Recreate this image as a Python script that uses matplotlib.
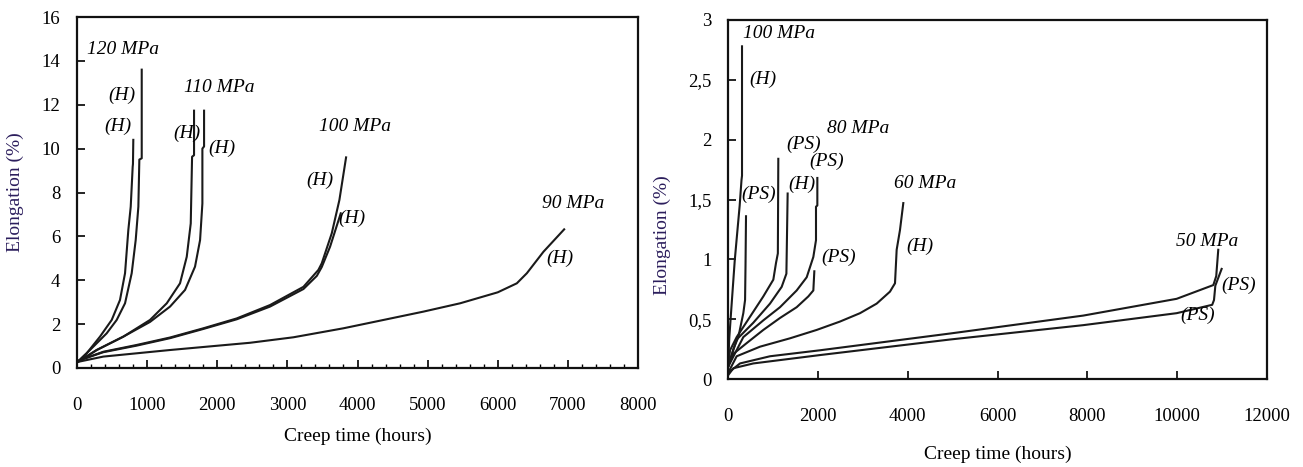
import matplotlib
matplotlib.use("Agg")
import matplotlib.pyplot as plt
from matplotlib.ticker import MultipleLocator, FixedLocator

# ---------------- data: left panel (hours, elongation %) ----------------
c120a_h = [0, 138, 328, 495, 613, 685, 732, 766, 794, 798, 803]
c120a_e = [0.25, 0.67, 1.43, 2.19, 3.1, 4.32, 6.29, 7.35, 9.17, 9.3, 10.4]
c120b_h = [0, 185, 423, 566, 685, 780, 837, 875, 889, 923, 923]
c120b_e = [0.25, 0.82, 1.58, 2.19, 2.95, 4.32, 5.83, 7.35, 9.5, 9.56, 13.6]
c110a_h = [0, 281, 661, 1041, 1280, 1469, 1565, 1622, 1641, 1669, 1669]
c110a_e = [0.25, 0.82, 1.43, 2.19, 2.95, 3.86, 5.07, 6.59, 9.63, 9.7, 11.73]
c110b_h = [0, 281, 661, 1041, 1327, 1541, 1683, 1755, 1788, 1788, 1812, 1812]
c110b_e = [0.25, 0.82, 1.43, 2.1, 2.8, 3.56, 4.62, 5.83, 7.5, 10.0, 10.1, 11.73]
c100a_h = [0, 43, 375, 851, 1327, 1802, 2278, 2753, 3229, 3442, 3490, 3633, 3742, 3837]
c100a_e = [0.3, 0.36, 0.74, 1.05, 1.39, 1.81, 2.26, 2.87, 3.7, 4.47, 4.77, 6.14, 7.66, 9.6]
c100b_h = [0, 43, 375, 851, 1327, 1802, 2278, 2753, 3229, 3420, 3490, 3609, 3761]
c100b_e = [0.3, 0.36, 0.72, 1.02, 1.36, 1.78, 2.22, 2.8, 3.6, 4.2, 4.6, 5.53, 7.05]
c90_h = [0, 375, 1327, 2468, 3086, 3799, 4370, 4940, 5464, 6000, 6272, 6415, 6652, 6947]
c90_e = [0.27, 0.52, 0.82, 1.15, 1.4, 1.81, 2.19, 2.57, 2.95, 3.45, 3.86, 4.32, 5.3, 6.32]

# ---------------- data: right panel ----------------
r100H_h = [0, 30, 82, 150, 200, 260, 300, 312, 312]
r100H_e = [0.1, 0.35, 0.63, 0.99, 1.2, 1.45, 1.66, 1.70, 2.78]
r100PS_h = [0, 119, 230, 341, 380, 390, 401]
r100PS_e = [0.1, 0.25, 0.35, 0.55, 0.66, 0.95, 1.36]
r80PSa_h = [0, 45, 193, 490, 786, 1009, 1069, 1110, 1120]
r80PSa_e = [0.1, 0.24, 0.35, 0.52, 0.69, 0.83, 0.97, 1.05, 1.84]
r80H_h = [0, 193, 563, 935, 1195, 1300, 1328]
r80H_e = [0.1, 0.33, 0.47, 0.63, 0.77, 0.88, 1.55]
r80PSb_h = [0, 341, 786, 1158, 1529, 1752, 1900, 1959, 1959, 1989, 1989]
r80PSb_e = [0.1, 0.35, 0.49, 0.60, 0.74, 0.85, 1.02, 1.16, 1.44, 1.45, 1.68]
r70PS_h = [0, 119, 416, 786, 1158, 1529, 1788, 1900, 1922]
r70PS_e = [0.1, 0.21, 0.30, 0.41, 0.51, 0.60, 0.69, 0.74, 0.90]
r60H_h = [0, 193, 712, 1380, 1974, 2493, 2939, 3310, 3606, 3718, 3755, 3829, 3903]
r60H_e = [0.05, 0.19, 0.27, 0.34, 0.41, 0.48, 0.55, 0.63, 0.73, 0.80, 1.08, 1.245, 1.47]
r50a_h = [0, 267, 935, 2048, 4942, 7910, 9988, 10805, 10870, 10915]
r50a_e = [0.05, 0.13, 0.19, 0.24, 0.38, 0.53, 0.67, 0.785, 0.86, 1.08]
r50b_h = [0, 119, 563, 2048, 4942, 7910, 9988, 10780, 10820, 10850, 10990]
r50b_e = [0.03, 0.09, 0.13, 0.20, 0.33, 0.45, 0.55, 0.62, 0.66, 0.78, 0.92]

left_xticks = [0, 1000, 2000, 3000, 4000, 5000, 6000, 7000, 8000]
left_yticks = [0, 2, 4, 6, 8, 10, 12, 14, 16]
right_xticks = [0, 2000, 4000, 6000, 8000, 10000, 12000]
right_yticks = [0, 0.5, 1, 1.5, 2, 2.5, 3]
right_ytick_labels = ["0", "0,5", "1", "1,5", "2", "2,5", "3"]

left_labels = ["120 MPa", "(H)", "(H)", "110 MPa", "(H)", "(H)",
               "100 MPa", "(H)", "(H)", "90 MPa", "(H)"]
left_label_pos = [(656, 14.5), (642, 12.44), (585, 11.0), (2026, 12.8),
                  (1569, 10.7), (2068, 10.0), (3966, 11.03), (3466, 8.57),
                  (3923, 6.82), (7076, 7.5), (6890, 5.0)]
right_labels = ["100 MPa", "(H)", "(PS)", "80 MPa", "(PS)", "(H)", "(PS)",
                "60 MPa", "(H)", "(PS)", "50 MPa", "(PS)", "(PS)"]
right_label_pos = [(1146, 2.89), (786, 2.50), (1692, 1.96), (2894, 2.09),
                   (2204, 1.82), (1640, 1.63), (675, 1.54), (4386, 1.63),
                   (4274, 1.105), (2455, 1.02), (10675, 1.147), (11363, 0.785),
                   (10452, 0.535)]

plt.rcParams['font.family'] = ['Liberation Serif', 'DejaVu Serif']

W, H = 1303, 467
fig = plt.figure(figsize=(W / 100, H / 100), dpi=100)
axL = fig.add_axes([77 / W, 1 - 368 / H, (638 - 77) / W, (368 - 17) / H])
axR = fig.add_axes([728 / W, 1 - 379 / H, (1267 - 728) / W, (379 - 20) / H])

lc = '#1a1a1a'
lw = 1.5
for h, e in [(c120a_h, c120a_e), (c120b_h, c120b_e), (c110a_h, c110a_e),
             (c110b_h, c110b_e), (c100a_h, c100a_e), (c100b_h, c100b_e),
             (c90_h, c90_e)]:
    axL.plot(h, e, color=lc, lw=lw)
for h, e in [(r100H_h, r100H_e), (r100PS_h, r100PS_e), (r80PSa_h, r80PSa_e),
             (r80H_h, r80H_e), (r80PSb_h, r80PSb_e), (r70PS_h, r70PS_e),
             (r60H_h, r60H_e), (r50a_h, r50a_e), (r50b_h, r50b_e)]:
    axR.plot(h, e, color=lc, lw=lw)

for t, (x, y) in zip(left_labels, left_label_pos):
    axL.text(x, y, t, ha='center', va='center', style='italic', fontsize=14)
for t, (x, y) in zip(right_labels, right_label_pos):
    axR.text(x, y, t, ha='center', va='center', style='italic', fontsize=14)

axL.set_xlim(0, 8000)
axL.set_ylim(0, 16)
axL.xaxis.set_major_locator(FixedLocator(left_xticks))
axL.xaxis.set_minor_locator(MultipleLocator(200))
axL.yaxis.set_major_locator(FixedLocator(left_yticks))
axL.set_xticklabels([str(v) for v in left_xticks])
axL.set_yticklabels([str(v) for v in left_yticks])

axR.set_xlim(0, 12000)
axR.set_ylim(0, 3)
axR.xaxis.set_major_locator(FixedLocator(right_xticks))
axR.yaxis.set_major_locator(FixedLocator(right_yticks))
axR.set_xticklabels([str(v) for v in right_xticks])
axR.set_yticklabels(right_ytick_labels)

for ax in (axL, axR):
    for s in ax.spines.values():
        s.set_linewidth(1.6)
        s.set_color('#111111')
    ax.tick_params(which='major', direction='in', length=6, width=1.2,
                   labelsize=13.5)
    ax.tick_params(which='minor', direction='in', length=3, width=1.0)
    ax.tick_params(axis='x', pad=21)
    ax.tick_params(axis='y', pad=12)

axL.set_xlabel("Creep time (hours)", fontsize=14)
axR.set_xlabel("Creep time (hours)", fontsize=14)
axL.set_ylabel("Elongation (%)", fontsize=14, color='#2b1d5c')
axR.set_ylabel("Elongation (%)", fontsize=14, color='#2b1d5c')
axL.xaxis.set_label_coords(0.5, -0.17)
axR.xaxis.set_label_coords(0.5, -0.185)
axL.yaxis.set_label_coords(-0.095, 0.5)
axR.yaxis.set_label_coords(-0.105, 0.4)

fig.savefig("out.png", dpi=100)
